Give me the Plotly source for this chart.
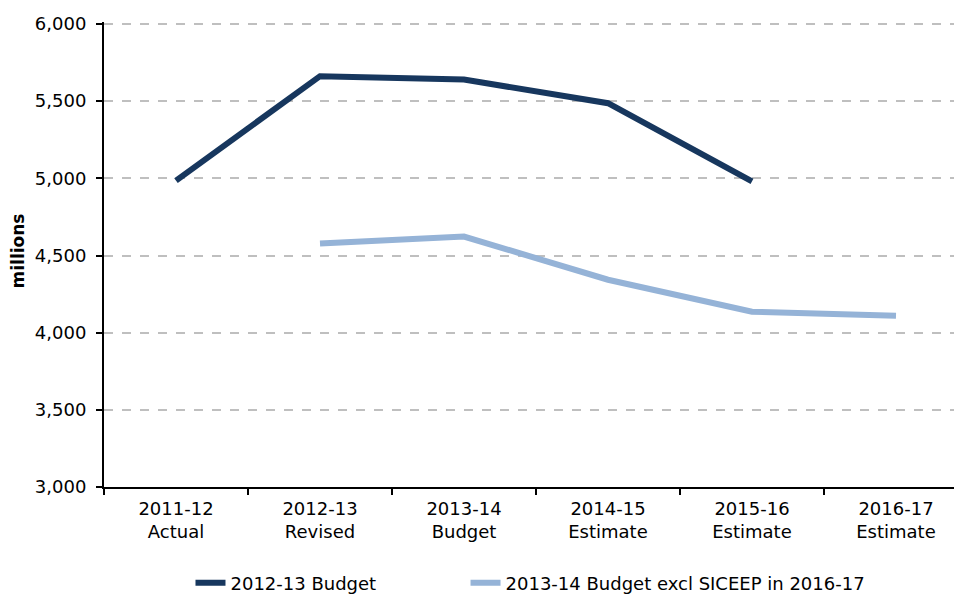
import plotly.graph_objects as go

categories = ["2011-12<br>Actual", "2012-13<br>Revised", "2013-14<br>Budget",
              "2014-15<br>Estimate", "2015-16<br>Estimate", "2016-17<br>Estimate"]
budget_2012_13 = [4985, 5662, 5640, 5487, 4980, None]
budget_2013_14 = [None, 4578, 4623, 4343, 4136, 4110]
y_ticks = [3000, 3500, 4000, 4500, 5000, 5500, 6000]

fig = go.Figure()
fig.add_trace(go.Scatter(x=categories, y=budget_2012_13, mode="lines",
                         name="2012-13 Budget", legend="legend",
                         line=dict(color="#17375E", width=6)))
fig.add_trace(go.Scatter(x=categories, y=budget_2013_14, mode="lines",
                         name="2013-14 Budget excl SICEEP in 2016-17", legend="legend2",
                         line=dict(color="#95B3D7", width=6)))

legend_common = dict(orientation="h", yref="container", y=0.0336, yanchor="middle",
                     xref="container", xanchor="left",
                     font=dict(family="DejaVu Sans", size=18),
                     bgcolor="rgba(0,0,0,0)")

fig.update_layout(
    width=962, height=595,
    margin=dict(l=96, r=2, t=14, b=116),
    paper_bgcolor="white", plot_bgcolor="white",
    font=dict(family="DejaVu Sans", size=18, color="black"),
    showlegend=True,
    legend=dict(x=0.1897, **legend_common),
    legend2=dict(x=0.4756, **legend_common),
    annotations=[dict(text="<b>millions</b>", textangle=-90, xref="paper", yref="paper",
                      x=-0.099, y=0.5075, xanchor="center", yanchor="middle",
                      showarrow=False, font=dict(size=17))],
)
fig.update_xaxes(
    type="category", range=[-0.5, 5.5], automargin=False,
    showline=True, linecolor="black", linewidth=2,
    ticks="outside", tickson="boundaries", ticklen=6, tickcolor="black", tickwidth=1.5,
    showgrid=False, ticklabelstandoff=4,
    tickfont=dict(family="DejaVu Sans", size=18),
)
fig.update_yaxes(
    range=[3000, 6013], tickvals=y_ticks, tickformat=",", automargin=False,
    showline=True, linecolor="black", linewidth=2,
    ticks="outside", ticklen=6, tickcolor="black", tickwidth=1.5,
    showgrid=True, gridcolor="#BFBFBF", gridwidth=1.5, griddash="dash",
    zeroline=False, ticklabelstandoff=6,
    tickfont=dict(size=18),
)

fig.write_html("out.html")
